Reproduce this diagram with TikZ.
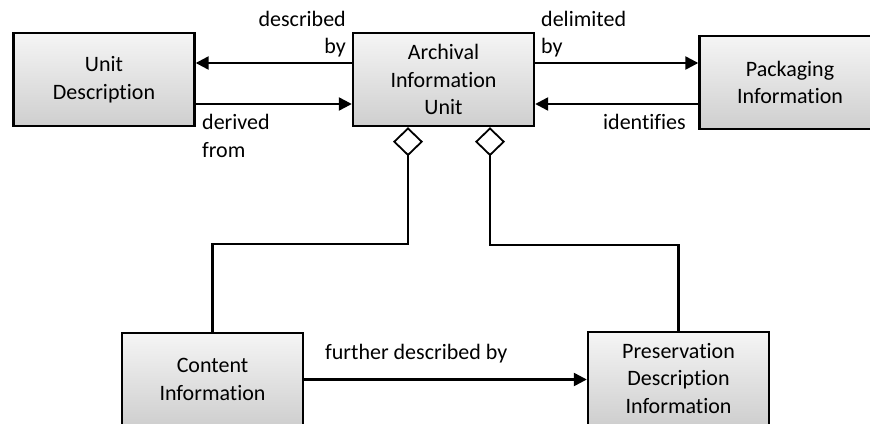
\documentclass[tikz,border=0pt]{standalone}
\usepackage{fontspec}
\setmainfont{Carlito}[Ligatures=NoCommon]
\usetikzlibrary{arrows.meta}

\newcommand{\diagfont}{\fontsize{22}{27.5}\selectfont}
\colorlet{box edge}{black}
\colorlet{box top}{gray!8}
\colorlet{box bottom}{gray!38}
\tikzset{
  unitbox/.style={rectangle, draw=box edge, line width=2.4pt, top color=box top, bottom color=box bottom,
    minimum width=181pt, minimum height=93pt, align=center, font=\diagfont},
  linktext/.style={inner sep=0pt, font=\diagfont}
  }
\tikzstyle{link} = [draw, line width=2.4pt, -{Triangle[length=13pt,width=13pt]}]
\tikzstyle{part of} = [draw, line width=2.4pt, {Diamond[open,length=29pt,width=30pt,line width=1.8pt]}-]

\begin{document}
\begin{tikzpicture}[x=1pt, y=-1pt]

    \useasboundingbox (0,0) rectangle (870,423);

    % The boxes
    \foreach \pos/\name/\txt in {{(104,79.5)/unit/{Unit\\Description}}, {(443.5,79.5)/aiu/{Archival\\Information\\Unit}},
      {(790,82.5)/pack/{Packaging\\Information}}, {(212.5,379.5)/content/{Content\\Information}},
      {(678.5,378.5)/pres/{Preservation\\Description\\Information}}} {
      \node[unitbox] (\name) at \pos {\txt};
    }

    % The relations between them
    \path[link] ([yshift=16.5pt]aiu.west) -- ([yshift=16.5pt]unit.east);
    \path[link] ([yshift=-24.5pt]unit.east) -- ([yshift=-24.5pt]aiu.west);
    \path[link] ([yshift=16.5pt]aiu.east) -- ([yshift=19.5pt]pack.west);
    \path[link] ([yshift=-21.5pt]pack.west) -- ([yshift=-24.5pt]aiu.east);
    \path[link] (content.east) -- (content.east -| pres.west);

    % The parts of the unit
    \path[part of] ([xshift=-35.5pt]aiu.south) -- ++(0,117) -| (content.north);
    \path[part of] ([xshift=46.5pt]aiu.south) -- ++(0,118) -| (pres.north);

    % The labels
    \node[linktext, anchor=east, align=right] (describedby) at (346,34) {described\\by};
    \node[linktext, anchor=west, align=left] (derivedfrom) at (202,136) {derived\\from};
    \node[linktext, anchor=west, align=left] (delimitedby) at (541,34) {delimited\\by};
    \node[linktext, anchor=east] (identifies) at (686,122) {identifies};
    \node[linktext, anchor=west] (further) at (325,354) {further described by};
\end{tikzpicture}
\end{document}
